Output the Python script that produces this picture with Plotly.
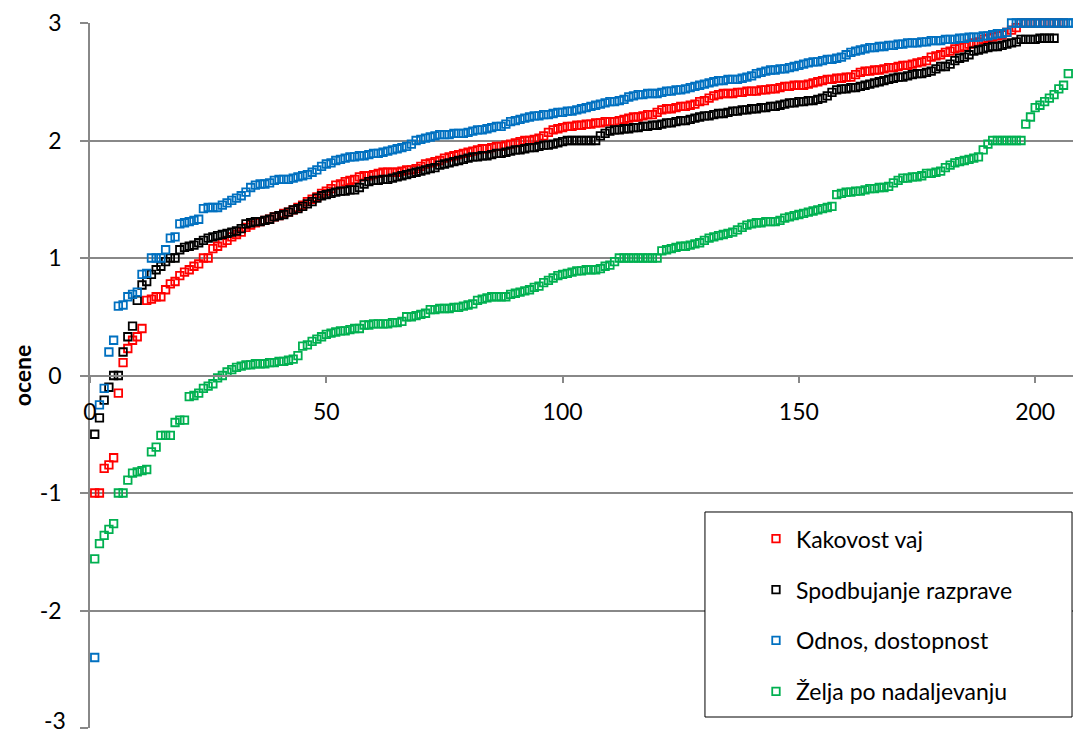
import plotly.graph_objects as go

# ---- data (scores sorted ascending per category) ----
series_names = ["Kakovost vaj", "Spodbujanje razprave", "Odnos, dostopnost", "Želja po nadaljevanju"]

kakovost_vaj = [
    -1.00, -1.00, -0.79, -0.76, -0.70, -0.15, 0.11, 0.23, 0.30, 0.33,
    0.40, 0.64, 0.65, 0.67, 0.67, 0.73, 0.78, 0.80, 0.85, 0.88,
    0.90, 0.93, 0.95, 1.00, 1.00, 1.08, 1.10, 1.13, 1.15, 1.18,
    1.20, 1.22, 1.26, 1.28, 1.30, 1.31, 1.32, 1.33, 1.35, 1.36,
    1.38, 1.39, 1.41, 1.43, 1.45, 1.48, 1.50, 1.52, 1.55, 1.57,
    1.59, 1.62, 1.63, 1.65, 1.66, 1.67, 1.69, 1.70, 1.70, 1.71,
    1.72, 1.73, 1.73, 1.73, 1.73, 1.74, 1.75, 1.75, 1.76, 1.78,
    1.80, 1.81, 1.82, 1.83, 1.85, 1.86, 1.87, 1.88, 1.89, 1.90,
    1.91, 1.92, 1.93, 1.93, 1.94, 1.95, 1.95, 1.96, 1.97, 1.98,
    1.99, 2.00, 2.00, 2.01, 2.02, 2.04, 2.07, 2.09, 2.10, 2.11,
    2.12, 2.12, 2.13, 2.13, 2.14, 2.14, 2.15, 2.15, 2.16, 2.16,
    2.16, 2.17, 2.18, 2.19, 2.20, 2.20, 2.21, 2.22, 2.22, 2.24,
    2.26, 2.27, 2.27, 2.28, 2.29, 2.29, 2.30, 2.31, 2.33, 2.34,
    2.36, 2.38, 2.39, 2.40, 2.40, 2.40, 2.41, 2.41, 2.42, 2.42,
    2.42, 2.43, 2.43, 2.44, 2.44, 2.45, 2.46, 2.46, 2.47, 2.47,
    2.47, 2.48, 2.49, 2.50, 2.51, 2.52, 2.52, 2.53, 2.53, 2.54,
    2.54, 2.56, 2.58, 2.59, 2.59, 2.60, 2.60, 2.61, 2.62, 2.62,
    2.63, 2.64, 2.64, 2.65, 2.66, 2.67, 2.68, 2.71, 2.72, 2.73,
    2.75, 2.76, 2.78, 2.79, 2.80, 2.82, 2.83, 2.84, 2.86, 2.87,
    2.88, 2.89, 2.90, 2.92, 2.94, 2.96, 3.00, 3.00, 3.00, 3.00,
    3.00, 3.00, 3.00, 3.00, 3.00, 3.00,
]

spodbujanje_razprave = [
    -0.50, -0.36, -0.21, -0.10, 0.00, 0.00, 0.20, 0.33, 0.42, 0.64,
    0.77, 0.80, 0.86, 0.90, 0.93, 0.97, 1.00, 1.00, 1.07, 1.09,
    1.10, 1.11, 1.13, 1.15, 1.17, 1.18, 1.19, 1.20, 1.21, 1.22,
    1.23, 1.25, 1.29, 1.30, 1.31, 1.31, 1.32, 1.33, 1.35, 1.36,
    1.37, 1.39, 1.41, 1.42, 1.44, 1.46, 1.48, 1.51, 1.53, 1.54,
    1.55, 1.56, 1.57, 1.57, 1.58, 1.58, 1.60, 1.63, 1.65, 1.66,
    1.66, 1.67, 1.67, 1.68, 1.69, 1.70, 1.71, 1.72, 1.73, 1.74,
    1.75, 1.76, 1.77, 1.79, 1.80, 1.81, 1.82, 1.83, 1.84, 1.85,
    1.86, 1.86, 1.87, 1.87, 1.88, 1.89, 1.89, 1.90, 1.91, 1.92,
    1.92, 1.93, 1.94, 1.94, 1.95, 1.96, 1.96, 1.97, 1.98, 1.99,
    2.00, 2.00, 2.00, 2.00, 2.00, 2.00, 2.00, 2.04, 2.06, 2.08,
    2.09, 2.09, 2.10, 2.10, 2.11, 2.11, 2.12, 2.12, 2.13, 2.13,
    2.14, 2.15, 2.15, 2.16, 2.17, 2.17, 2.18, 2.19, 2.20, 2.21,
    2.21, 2.22, 2.23, 2.23, 2.24, 2.25, 2.25, 2.26, 2.26, 2.27,
    2.27, 2.28, 2.28, 2.29, 2.29, 2.30, 2.31, 2.32, 2.32, 2.33,
    2.33, 2.34, 2.34, 2.35, 2.36, 2.38, 2.41, 2.43, 2.44, 2.44,
    2.45, 2.45, 2.46, 2.47, 2.48, 2.49, 2.50, 2.51, 2.52, 2.53,
    2.54, 2.54, 2.55, 2.56, 2.57, 2.57, 2.58, 2.59, 2.61, 2.63,
    2.63, 2.65, 2.68, 2.70, 2.71, 2.73, 2.76, 2.77, 2.78, 2.79,
    2.80, 2.80, 2.81, 2.82, 2.83, 2.84, 2.86, 2.86, 2.86, 2.86,
    2.87, 2.87, 2.87, 2.87,
]

odnos_dostopnost = [
    -2.40, -0.25, -0.11, 0.20, 0.30, 0.59, 0.60, 0.67, 0.69, 0.71,
    0.86, 0.87, 1.00, 1.00, 1.00, 1.07, 1.17, 1.18, 1.29, 1.30,
    1.31, 1.32, 1.33, 1.42, 1.43, 1.43, 1.43, 1.45, 1.47, 1.49,
    1.51, 1.53, 1.56, 1.60, 1.62, 1.63, 1.63, 1.64, 1.66, 1.67,
    1.67, 1.67, 1.68, 1.69, 1.70, 1.71, 1.73, 1.75, 1.78, 1.80,
    1.81, 1.83, 1.84, 1.85, 1.86, 1.86, 1.87, 1.87, 1.88, 1.89,
    1.89, 1.90, 1.91, 1.92, 1.93, 1.94, 1.95, 1.97, 2.00, 2.01,
    2.02, 2.03, 2.04, 2.05, 2.05, 2.05, 2.06, 2.06, 2.06, 2.07,
    2.08, 2.09, 2.09, 2.10, 2.11, 2.12, 2.12, 2.14, 2.16, 2.17,
    2.18, 2.19, 2.20, 2.21, 2.21, 2.22, 2.22, 2.23, 2.24, 2.24,
    2.25, 2.25, 2.26, 2.27, 2.28, 2.29, 2.30, 2.31, 2.32, 2.33,
    2.33, 2.34, 2.35, 2.37, 2.38, 2.39, 2.39, 2.40, 2.40, 2.40,
    2.41, 2.42, 2.42, 2.43, 2.43, 2.44, 2.45, 2.46, 2.47, 2.48,
    2.49, 2.50, 2.51, 2.51, 2.52, 2.52, 2.52, 2.53, 2.54, 2.55,
    2.57, 2.58, 2.59, 2.60, 2.60, 2.61, 2.61, 2.62, 2.63, 2.64,
    2.65, 2.66, 2.67, 2.67, 2.68, 2.69, 2.69, 2.70, 2.71, 2.73,
    2.75, 2.76, 2.77, 2.78, 2.79, 2.79, 2.80, 2.80, 2.81, 2.81,
    2.82, 2.82, 2.83, 2.83, 2.83, 2.84, 2.84, 2.85, 2.85, 2.85,
    2.86, 2.86, 2.86, 2.87, 2.87, 2.88, 2.88, 2.88, 2.89, 2.89,
    2.90, 2.91, 2.91, 2.92, 3.00, 3.00, 3.00, 3.00, 3.00, 3.00,
    3.00, 3.00, 3.00, 3.00, 3.00, 3.00, 3.00, 3.00,
]

zelja_po_nadaljevanju = [
    -1.56, -1.43, -1.36, -1.31, -1.26, -1.00, -1.00, -0.89, -0.83, -0.82,
    -0.81, -0.80, -0.65, -0.61, -0.51, -0.51, -0.51, -0.40, -0.38, -0.38,
    -0.18, -0.17, -0.15, -0.11, -0.09, -0.07, -0.02, 0.00, 0.03, 0.05,
    0.07, 0.08, 0.09, 0.09, 0.10, 0.10, 0.10, 0.11, 0.11, 0.12,
    0.12, 0.13, 0.14, 0.17, 0.25, 0.26, 0.29, 0.31, 0.33, 0.35,
    0.36, 0.37, 0.38, 0.38, 0.39, 0.40, 0.40, 0.43, 0.43, 0.44,
    0.44, 0.44, 0.44, 0.45, 0.45, 0.46, 0.50, 0.50, 0.51, 0.52,
    0.53, 0.56, 0.56, 0.57, 0.57, 0.57, 0.58, 0.58, 0.59, 0.60,
    0.61, 0.64, 0.65, 0.66, 0.67, 0.67, 0.67, 0.67, 0.69, 0.70,
    0.71, 0.72, 0.73, 0.75, 0.76, 0.79, 0.81, 0.83, 0.85, 0.86,
    0.87, 0.88, 0.89, 0.89, 0.90, 0.90, 0.90, 0.91, 0.93, 0.94,
    0.97, 1.00, 1.00, 1.00, 1.00, 1.00, 1.00, 1.00, 1.00, 1.00,
    1.06, 1.07, 1.08, 1.09, 1.10, 1.10, 1.11, 1.12, 1.13, 1.15,
    1.17, 1.18, 1.19, 1.20, 1.21, 1.22, 1.24, 1.26, 1.28, 1.29,
    1.30, 1.30, 1.31, 1.31, 1.31, 1.32, 1.34, 1.35, 1.36, 1.37,
    1.38, 1.39, 1.40, 1.41, 1.42, 1.43, 1.44, 1.54, 1.55, 1.56,
    1.56, 1.57, 1.57, 1.58, 1.59, 1.59, 1.60, 1.60, 1.61, 1.64,
    1.66, 1.68, 1.68, 1.69, 1.69, 1.70, 1.72, 1.72, 1.73, 1.74,
    1.77, 1.79, 1.81, 1.82, 1.83, 1.84, 1.85, 1.86, 1.92, 1.97,
    2.00, 2.00, 2.00, 2.00, 2.00, 2.00, 2.00, 2.14, 2.20, 2.28,
    2.30, 2.33, 2.36, 2.39, 2.44, 2.47, 2.57,
]

series_values = [kakovost_vaj, spodbujanje_razprave, odnos_dostopnost, zelja_po_nadaljevanju]
series_colors = ["#FF0000", "#000000", "#0070C0", "#00B050"]

x_tick_vals = [0, 50, 100, 150, 200]
y_tick_vals = [-3, -2, -1, 0, 1, 2, 3]
y_tick_text = ["-3", "-2", "-1", "0", "1", "2", "3"]
y_title = "ocene"

FONT = "Lato, 'Open Sans', sans-serif"
GRID = "#888888"

fig = go.Figure()
for k, (name, vals, col) in enumerate(zip(series_names, series_values, series_colors)):
    fig.add_trace(go.Scatter(
        x=list(range(1, len(vals) + 1)),
        y=vals,
        mode="markers",
        name=name,
        legendgroup=f"g{k}",
        marker=dict(symbol="square-open", size=7.5, color=col,
                    line=dict(color=col, width=1.8)),
        cliponaxis=False,
    ))

# the lowest tick label sits at the very bottom edge; draw it as an annotation nudged
# slightly upward so it stays fully inside the picture
shown_tick_text = [""] + y_tick_text[1:]

# page body has an 8px default margin, so the figure is sized/offset to compensate
fig.update_layout(
    width=1073, height=731,
    margin=dict(l=82, r=8, t=15, b=11),
    paper_bgcolor="white", plot_bgcolor="white",
    font=dict(family=FONT, size=23, color="#000000"),
    showlegend=True,
    legend=dict(
        x=0.6775, xanchor="left", y=0.299, yanchor="top",
        bgcolor="rgba(0,0,0,0)", borderwidth=0,
        traceorder="grouped", tracegroupgap=18,
        font=dict(family=FONT, size=23, color="#000000"),
    ),
    shapes=[dict(type="rect", xref="paper", yref="paper",
                 x0=0.6256, x1=0.999, y0=0.0156, y1=0.3064,
                 line=dict(color="#000000", width=1), fillcolor="white",
                 layer="above")],
    annotations=[dict(text=y_tick_text[0], xref="paper", yref="paper",
                      x=-0.0225, y=0.011, xanchor="right", yanchor="middle",
                      showarrow=False,
                      font=dict(family=FONT, size=23, color="#000000"))],
)

fig.update_xaxes(
    range=[0, 208], anchor="free", position=0.5,
    showline=True, linecolor=GRID, linewidth=1.5,
    ticks="outside", ticklen=7, tickcolor=GRID, tickwidth=1.5,
    tickvals=x_tick_vals, showgrid=False, zeroline=False,
    ticklabelstandoff=9, ticklabeloverflow="allow",
    tickfont=dict(family=FONT, size=23, color="#000000"),
)
fig.update_yaxes(
    range=[-3, 3], tickvals=y_tick_vals, ticktext=shown_tick_text,
    showgrid=True, gridcolor=GRID, gridwidth=1.5,
    showline=True, linecolor=GRID, linewidth=1.5,
    ticks="outside", ticklen=8, tickcolor=GRID, tickwidth=1.5,
    zeroline=False, ticklabelstandoff=14, ticklabeloverflow="allow",
    tickfont=dict(family=FONT, size=23, color="#000000"),
    title=dict(text=f"<b>{y_title}</b>", standoff=5,
               font=dict(family=FONT, size=23, color="#000000")),
    automargin=False,
)

fig.write_html("out.html")
